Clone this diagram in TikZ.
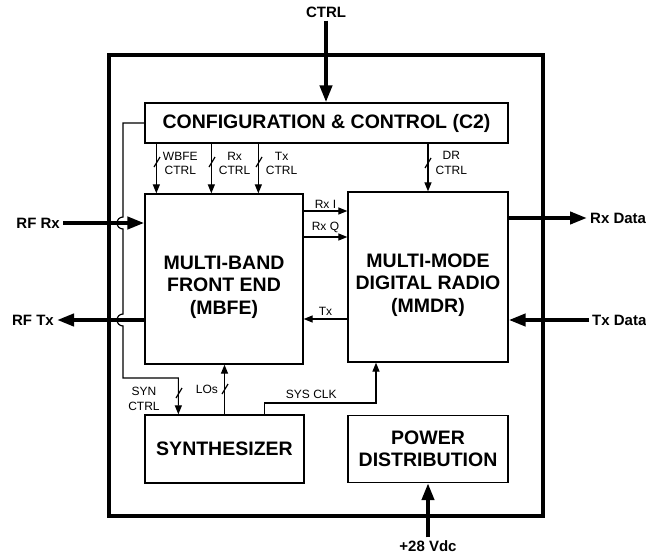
\documentclass[tikz,border=0pt]{standalone}
\usepackage{fontspec}
\setmainfont{Liberation Sans}
\usepackage{tikz}
\usetikzlibrary{arrows.meta}

\begin{document}
\begin{tikzpicture}[x=1pt, y=-1pt,
  block/.style={draw, line width=1.3pt, inner sep=0pt, align=center,
    font=\fontsize{19.5}{22.5}\selectfont\bfseries},
  boxtext/.style={align=center, inner sep=0pt, font=\fontsize{19.5}{22.5}\selectfont\bfseries},
  arrow/.style={-{Triangle[length=9pt, width=7pt]}, line width=1.2pt},
  wire/.style={line width=1.2pt},
  bigarrow/.style={-{Triangle[length=17pt, width=12pt]}, line width=4pt},
  port/.style={font=\fontsize{15}{18}\selectfont\bfseries, inner sep=3pt},
  sig/.style={font=\fontsize{12}{14.5}\selectfont, inner sep=1pt, align=center}
]

\useasboundingbox (0,0) rectangle (646,554);

% Contenitore del sistema
\draw[line width=3.8pt] (109,55) rectangle (543,516);

% Blocchi interni
\node[block, minimum width=363pt, minimum height=40pt] (c2) at (326.5,123) {CONFIGURATION \& CONTROL (C2)};
\node[block, minimum width=158pt, minimum height=170pt] (mbfe) at (224,279) {};
\node[block, minimum width=160pt, minimum height=170pt] (mmdr) at (428,277) {};
\node[block, minimum width=159pt, minimum height=68pt] (synth) at (224.5,449) {SYNTHESIZER};
\node[block, minimum width=160pt, minimum height=67pt] (power) at (428,449) {POWER\\DISTRIBUTION};
\node[boxtext] (mbfetxt) at ([yshift=-8pt]mbfe.center) {MULTI-BAND\\FRONT END\\(MBFE)};
\node[boxtext] (mmdrtxt) at ([yshift=-8pt]mmdr.center) {MULTI-MODE\\DIGITAL RADIO\\(MMDR)};

% Porte esterne
\node[port] (ctrl) at (326,12) {CTRL};
\node[port, anchor=east] (rfrx) at (63,223) {RF Rx};
\node[port, anchor=east] (rftx) at (57,320) {RF Tx};
\node[port, anchor=west] (rxdata) at (587,218) {Rx Data};
\node[port, anchor=west] (txdata) at (589,320) {Tx Data};
\node[port] (vdc) at (428,546) {+28 Vdc};

\draw[bigarrow] (ctrl) -- (ctrl |- c2.north);
\draw[bigarrow] (rfrx) -- (rfrx -| mbfe.west);
\draw[bigarrow] (rftx -| mbfe.west) -- (rftx);
\draw[bigarrow] (rxdata -| mmdr.east) -- (rxdata);
\draw[bigarrow] (txdata) -- (txdata -| mmdr.east);
\draw[bigarrow] (vdc) -- (vdc |- power.south);

% Bus di controllo da C2
\coordinate (wbfe) at ([xshift=12pt]mbfe.north west);
\coordinate (rxc) at ([xshift=67pt]mbfe.north west);
\coordinate (txc) at ([xshift=114pt]mbfe.north west);
\draw[arrow] (wbfe |- c2.south) -- (wbfe) node[sig, pos=0.4, right, xshift=5pt] {WBFE\\CTRL};
\draw[arrow] (rxc |- c2.south) -- (rxc) node[sig, pos=0.4, right, xshift=6pt] {Rx\\CTRL};
\draw[arrow] (txc |- c2.south) -- (txc) node[sig, pos=0.4, right, xshift=6pt] {Tx\\CTRL};
\draw[arrow] (c2.south -| mmdr.north) -- (mmdr.north) node[sig, pos=0.4, right, xshift=6pt] {DR\\CTRL};
\draw[wire] (154,167) -- (160,157);
\draw[wire] (209,167) -- (215,157);
\draw[wire] (256,167) -- (262,157);
\draw[wire] (425,168) -- (431,158);

% Segnali tra MBFE e MMDR
\coordinate (rxi) at ([yshift=68pt]mbfe.east);
\coordinate (rxq) at ([yshift=42pt]mbfe.east);
\coordinate (txm) at ([yshift=-42pt]mmdr.west);
\draw[arrow] (rxi) -- (rxi -| mmdr.west) node[sig, midway, above, yshift=1pt] {Rx I};
\draw[arrow] (rxq) -- (rxq -| mmdr.west) node[sig, midway, above, yshift=3pt] {Rx Q};
\draw[arrow] (txm) -- (txm -| mbfe.east) node[sig, midway, above, yshift=2pt] {Tx};

% Controllo del sintetizzatore, con salti sulle linee RF
\coordinate (synctl) at ([xshift=34pt]synth.north west);
\draw[arrow] (c2.west) -| (123,217) arc[start angle=90, end angle=270, radius=6pt]
  -- (123,314) arc[start angle=90, end angle=270, radius=6pt]
  -- (123,378) -| (synctl);
\draw[wire] (176,398) -- (182,388);
\node[sig] (synlbl) at (144,399) {SYN\\CTRL};

% Uscite del sintetizzatore
\draw[arrow] (synth.north) -- (synth.north |- mbfe.south) node[sig, midway, left, xshift=-5pt] {LOs};
\draw[wire] (222,394) -- (228,384);
\coordinate (clk) at (376,403);
\draw[arrow] ([xshift=40pt]synth.north) |- (clk) node[sig, pos=0.71, above, yshift=3pt] {SYS CLK} -- (clk |- mmdr.south);

\end{tikzpicture}
\end{document}
